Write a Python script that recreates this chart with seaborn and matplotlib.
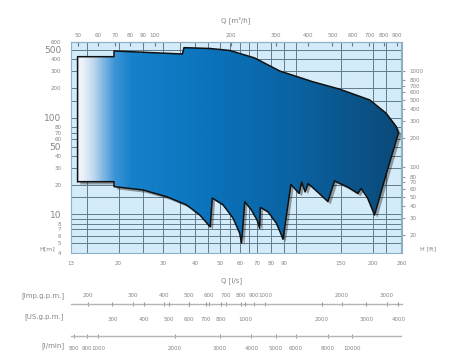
import numpy as np
import matplotlib
matplotlib.use("Agg")
import matplotlib.pyplot as plt
import matplotlib.ticker as mticker
import matplotlib.patheffects as pe
from matplotlib.colors import LinearSegmentedColormap
from matplotlib.patches import Polygon
import seaborn as sns

# pump range outline, Q [l/s] vs H [m]
# upper edge, left to right (starts at bottom-left corner)
q_top = [13.8, 13.8, 19.2, 19.2, 35.7, 36.2, 45.7, 54.8, 68.7, 86.2, 116, 148, 195, 226, 248, 253]
h_top = [21.7, 426, 426, 488, 454, 528, 518, 494, 413, 303, 235, 197, 152, 111, 80.4, 69.2]
# right edge going down
q_right = [227, 203.6]
h_right = [26.7, 9.8]
# lower edge, left to right (sawtooth of the impeller curves)
q_low = [13.8, 19.2, 19.2, 25.0, 30.9, 37.0, 41.8, 45.9, 46.8, 51.6, 56.5, 60.0, 61.0,
         62.8, 66.7, 70.2, 71.9, 72.3, 77.5, 83.7, 87.5, 88.8, 95.4, 102.8, 105.2,
         108.6, 111.5, 121.5, 133.4, 141.7, 159.5, 175.1, 180.3, 191.2, 203.6]
h_low = [21.7, 21.7, 19.3, 17.8, 15.2, 12.5, 9.8, 7.4, 14.7, 12.5, 9.1, 6.35, 5.0,
         13.5, 11.05, 8.7, 7.15, 11.8, 10.6, 8.05, 6.1, 5.5, 20.3, 16.4, 21.5,
         17.0, 20.8, 17.0, 13.5, 22.1, 19.1, 16.4, 18.5, 14.7, 9.8]

# axis ticks
q_ticks = [13, 20, 30, 40, 50, 60, 70, 80, 90, 150, 200, 260]
q_grid = [15, 20, 25, 30, 35, 40, 45, 50, 55, 60, 65, 70, 80, 90, 100, 150, 200, 225]
h_ticks = [4, 5, 6, 7, 8, 10, 20, 30, 40, 50, 60, 70, 80, 100, 200, 300, 400, 500, 600]
h_grid = [5, 6, 7, 8, 9, 10, 15, 20, 30, 40, 50, 60, 70, 80, 100, 150, 200, 300, 400, 500]
h_big = ["500", "100", "50", "10"]
m3h_ticks = [50, 60, 70, 80, 90, 100, 200, 300, 400, 500, 600, 700, 800, 900]
ft_ticks = [20, 30, 40, 50, 60, 70, 80, 100, 200, 300, 400, 500, 600, 700, 800, 1000]
imp_ticks = [200, 300, 400, 500, 600, 700, 800, 900, 1000, 2000, 3000]
us_ticks = [300, 400, 500, 600, 700, 800, 1000, 2000, 3000, 4000]
lmin_ticks = [800, 900, 1000, 2000, 3000, 4000, 5000, 6000, 8000, 10000]

sns.set_style("white")
plt.rcParams["font.family"] = ["DejaVu Sans"]

TXT = "#858585"
GRID = "#5f7b8d"
W, HP = 466, 358
L, R, T, B = 71, 401.5, 42.3, 252.7

fig = plt.figure(figsize=(4.66, 3.58), dpi=100)
ax = fig.add_axes([L / W, 1 - B / HP, (R - L) / W, (B - T) / HP])
ax.set_xscale("log")
ax.set_yscale("log")
ax.set_facecolor("#d4ebf9")

# gradient fill clipped to the outline, with a soft drop shadow
q_all = q_top + q_right + q_low[::-1]
h_all = h_top + h_right + h_low[::-1]
poly = Polygon(np.column_stack([q_all, h_all]), closed=True, facecolor="#0b6aa8",
               edgecolor="none", zorder=2.8,
               path_effects=[pe.SimplePatchShadow(offset=(2, -2), shadow_rgbFace="black",
                                                  alpha=0.35), pe.Normal()])
ax.add_patch(poly)
cmap = LinearSegmentedColormap.from_list("pump", [
    (0.0, "#f2f5fb"), (0.03, "#eef3fa"), (0.06, "#c9def1"), (0.09, "#8dbde6"),
    (0.13, "#3b94d6"), (0.18, "#1682cb"), (0.40, "#0b74bd"), (0.70, "#0a619f"),
    (1.0, "#0a4977")])
grad = np.linspace(0, 1, 400).reshape(1, -1)
im = ax.imshow(grad, extent=[0, 1, 0, 1], transform=ax.transAxes, cmap=cmap,
               aspect="auto", zorder=3, interpolation="bilinear")
im.set_clip_path(poly)

sns.lineplot(x=q_all + [q_all[0]], y=h_all + [h_all[0]], sort=False, estimator=None,
             color="#111111", lw=1.1, ax=ax, zorder=4)
ax.set_xlim(13, 260)
ax.set_ylim(4, 600)
ax.set_xlabel("")
ax.set_ylabel("")

# ticks and grid
ax.xaxis.set_major_locator(mticker.FixedLocator(q_ticks))
ax.xaxis.set_major_formatter(mticker.FixedFormatter([str(v) for v in q_ticks]))
ax.xaxis.set_minor_locator(mticker.FixedLocator(q_grid))
ax.xaxis.set_minor_formatter(mticker.NullFormatter())
ax.yaxis.set_major_locator(mticker.FixedLocator(h_ticks))
ax.yaxis.set_major_formatter(mticker.FixedFormatter([str(v) for v in h_ticks]))
ax.yaxis.set_minor_locator(mticker.FixedLocator(h_grid))
ax.yaxis.set_minor_formatter(mticker.NullFormatter())
ax.xaxis.remove_overlapping_locs = False
ax.yaxis.remove_overlapping_locs = False
ax.grid(False)
ax.grid(which="minor", color=GRID, lw=0.7)
ax.set_axisbelow(True)
ax.tick_params(axis="x", which="both", length=0, labelsize=4, labelcolor=TXT, pad=6)
ax.tick_params(axis="y", which="major", direction="in", length=3, color=GRID,
               labelsize=4, labelcolor=TXT, pad=7)
ax.tick_params(axis="y", which="minor", length=0)
for lab in ax.get_yticklabels():
    if lab.get_text() in h_big:
        lab.set_fontsize(6.5)
for s in ax.spines.values():
    s.set_color("#8fb0c4")
    s.set_linewidth(0.8)

# top axis in m3/h
secx = ax.secondary_xaxis("top", functions=(lambda q: q * 3.6, lambda m: m / 3.6))
secx.xaxis.set_major_locator(mticker.FixedLocator(m3h_ticks))
secx.xaxis.set_major_formatter(mticker.FixedFormatter([str(v) for v in m3h_ticks]))
secx.xaxis.set_minor_locator(mticker.NullLocator())
secx.tick_params(direction="in", length=3, color=GRID, labelsize=4, labelcolor=TXT, pad=3)
secx.spines["top"].set_color("#8fb0c4")

# right axis in ft
secy = ax.secondary_yaxis("right", functions=(lambda h: h * 3.2808, lambda f: f / 3.2808))
secy.yaxis.set_major_locator(mticker.FixedLocator(ft_ticks))
secy.yaxis.set_major_formatter(mticker.FixedFormatter([str(v) for v in ft_ticks]))
secy.yaxis.set_minor_locator(mticker.NullLocator())
secy.tick_params(direction="out", length=2, color="#9a9a9a", labelsize=4, labelcolor=TXT, pad=4)
secy.spines["right"].set_color("#8fb0c4")

fig.text(236 / W, 1 - 20 / HP, "Q [m³/h]", fontsize=5, color=TXT, ha="center", va="center")
fig.text(232 / W, 1 - 281 / HP, "Q [l/s]", fontsize=5, color=TXT, ha="center", va="center")
fig.text(47 / W, 1 - 249 / HP, "H[m]", fontsize=4.5, color=TXT, ha="center", va="center")
fig.text(428 / W, 1 - 249 / HP, "H [ft]", fontsize=4.5, color=TXT, ha="center", va="center")


def scale_axis(y_px, factor, ticks, side, pad, line):
    a = fig.add_axes([L / W, 1 - y_px / HP, (R - L) / W, 0.0001])
    a.set_xscale("log")
    a.set_xlim(13 * factor, 260 * factor)
    a.set_yticks([])
    a.patch.set_alpha(0)
    for s in a.spines.values():
        s.set_visible(False)
    if line:
        a.spines["bottom"].set_visible(True)
        a.spines["bottom"].set_color("#b5b5b5")
        a.spines["bottom"].set_linewidth(1.0)
    a.xaxis.set_major_locator(mticker.FixedLocator(ticks))
    a.xaxis.set_major_formatter(mticker.FixedFormatter([str(v) for v in ticks]))
    a.xaxis.set_minor_locator(mticker.NullLocator())
    a.xaxis.set_ticks_position(side)
    a.tick_params(axis="x", direction="inout", length=3, color="#9a9a9a",
                  labelsize=4, labelcolor=TXT, pad=pad)
    return a


scale_axis(304.3, 13.198, imp_ticks, "top", 3, True)
scale_axis(304.3, 15.850, us_ticks, "bottom", 8, False)
scale_axis(335.7, 60.0, lmin_ticks, "bottom", 6, True)

fig.text(64 / W, 1 - 296 / HP, "[Imp.g.p.m.]", fontsize=5, color=TXT, ha="right", va="center")
fig.text(64 / W, 1 - 317 / HP, "[US.g.p.m.]", fontsize=5, color=TXT, ha="right", va="center")
fig.text(64 / W, 1 - 346 / HP, "[l/min]", fontsize=5, color=TXT, ha="right", va="center")

fig.savefig("out.png", dpi=100)
